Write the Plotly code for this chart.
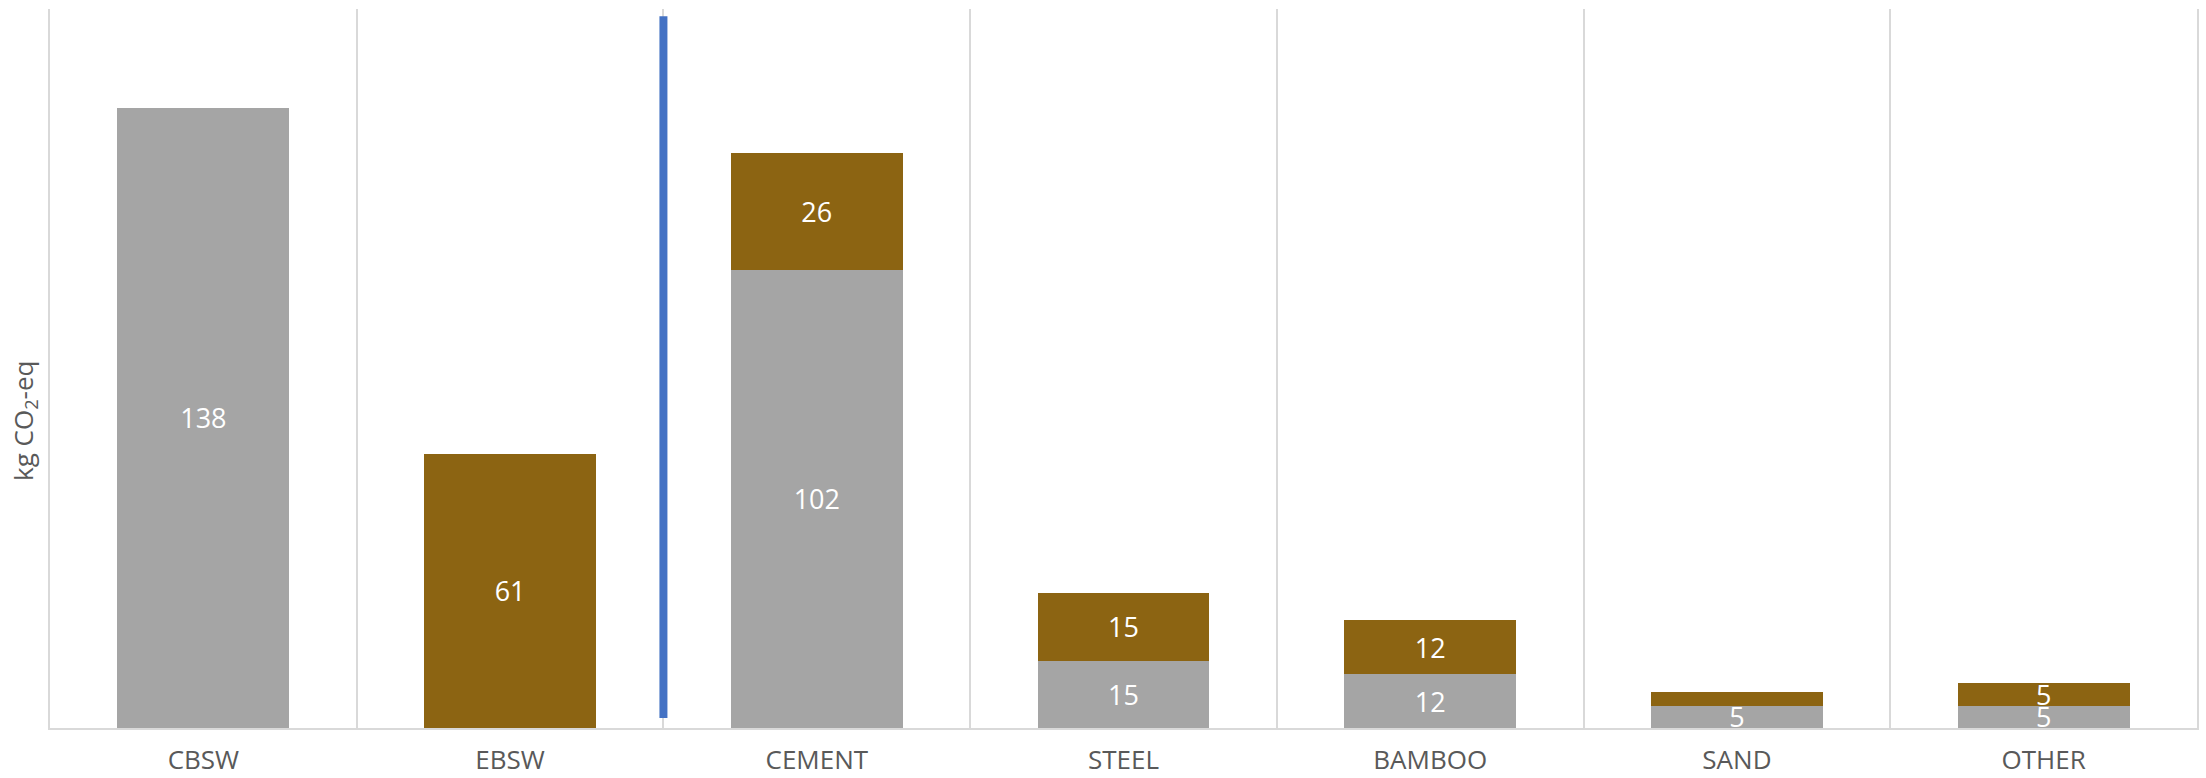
import plotly.graph_objects as go

categories = ["CBSW", "EBSW", "CEMENT", "STEEL", "BAMBOO", "SAND", "OTHER"]
gray_values = [138, 0, 102, 15, 12, 5, 5]
brown_values = [0, 61, 26, 15, 12, 3, 5]
gray_labels = ["138", "", "102", "15", "12", "5", "5"]
brown_labels = ["", "61", "26", "15", "12", "", "5"]
separator_x = 1.5
separator_y = [2.2, 158.4]

GRAY = "#A5A5A5"
BROWN = "#8C6412"
BLUE = "#4472C4"
GRID = "#D9D9D9"
TXT = "#595959"

fig = go.Figure()
fig.add_trace(go.Bar(
    x=categories, y=gray_values, text=gray_labels, marker_color=GRAY,
    marker_line_width=0,
    textposition="inside", insidetextanchor="middle", constraintext="none",
    textangle=0, textfont=dict(family="Open Sans", size=27, color="white"),
    hoverinfo="skip", name="gray"))
fig.add_trace(go.Bar(
    x=categories, y=brown_values, text=brown_labels, marker_color=BROWN,
    marker_line_width=0,
    textposition="inside", insidetextanchor="middle", constraintext="none",
    textangle=0, textfont=dict(family="Open Sans", size=27, color="white"),
    hoverinfo="skip", name="brown"))

fig.add_shape(type="line", xref="x", yref="y",
              x0=separator_x, x1=separator_x, y0=separator_y[0], y1=separator_y[1],
              line=dict(color=BLUE, width=8), layer="above")

fig.add_annotation(text="kg CO<sub>2</sub>-eq", xref="paper", yref="paper",
                   x=0, y=0.427, xshift=-26, xanchor="center", yanchor="middle",
                   textangle=-90, showarrow=False,
                   font=dict(family="Open Sans", size=26, color=TXT))

fig.update_layout(
    width=2206, height=778,
    margin=dict(l=50, r=9, t=9, b=50),
    barmode="stack", bargap=0.44,
    showlegend=False,
    plot_bgcolor="white", paper_bgcolor="white",
    xaxis=dict(type="category", tickson="boundaries", showgrid=True,
               gridcolor=GRID, gridwidth=2, showline=True, linecolor=GRID,
               linewidth=2, ticks="", ticklabelstandoff=8, automargin=False,
               tickfont=dict(family="Open Sans", size=26, color=TXT)),
    yaxis=dict(range=[0, 160], showgrid=False, showticklabels=False,
               zeroline=False, showline=True, mirror=True, linecolor=GRID,
               linewidth=2, ticks="", automargin=False),
)

fig.write_html("out.html", config={"displayModeBar": False},
               post_script="document.body.style.margin='0';document.body.style.overflow='hidden';")
